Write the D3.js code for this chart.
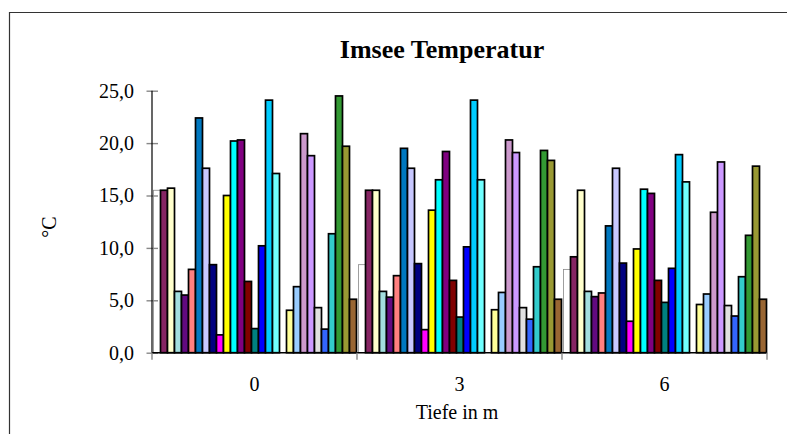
<!DOCTYPE html>
<html>
<head>
<meta charset="utf-8">
<script src="https://cdn.jsdelivr.net/npm/d3@7"></script>
<style>
  html, body { margin: 0; padding: 0; background: #fff; }
  svg { display: block; font-family: "Liberation Serif", "Times New Roman", serif; }
</style>
</head>
<body>
<svg id="chart" width="787" height="434"></svg>
<script>
// ---- data ----
const categories = ["0", "3", "6"];
const seriesNames = ["S1","S2","S3","S4","S5","S6","S7","S8","S9","S10","S11","S12","S13","S14","S15","S16","S17","S18","S19","S20","S21","S22","S23","S24","S25","S26","S27","S28","S29"];
const seriesColors = ["#FFFFFF","#862563","#FFFFCC","#A3DEDE","#620A80","#FF8080","#0078C0","#C8C8FF","#000080","#FF00FF","#FFFF00","#00FFFF","#800080","#800000","#008080","#0000FF","#00CCFF","#70FFFF","#FFFFFF","#FFFF99","#99CCFF","#CC99CC","#CC99FF","#E0E0E0","#3366FF","#33CCCC","#339933","#999933","#996633"];
const valuesDepth0 = [15.5,15.5,15.7,5.85,5.5,7.95,22.4,17.6,8.4,1.7,15.0,20.2,20.3,6.8,2.3,10.2,24.1,17.1,null,4.05,6.3,20.9,18.8,4.3,2.25,11.35,24.5,19.7,5.1];
const valuesDepth3 = [8.4,15.5,15.5,5.85,5.3,7.35,19.5,17.6,8.5,2.2,13.6,16.5,19.2,6.9,3.4,10.1,24.1,16.5,null,4.1,5.75,20.3,19.1,4.3,3.2,8.2,19.3,18.35,5.1];
const valuesDepth6 = [7.95,9.15,15.5,5.85,5.35,5.7,12.1,17.6,8.55,3.0,9.9,15.6,15.2,6.9,4.8,8.05,18.9,16.3,null,4.6,5.6,13.4,18.2,4.5,3.5,7.25,11.2,17.8,5.1];
const yTicks = [0, 5, 10, 15, 20, 25];
const titleText = "Imsee Temperatur";
const xTitle = "Tiefe in m";
const yTitle = "°C";

const rows = [valuesDepth0, valuesDepth3, valuesDepth6];

// ---- layout ----
const svg = d3.select("#chart");
const plot = { left: 152, right: 767, top: 90.7, bottom: 352.7 };

// frame
svg.append("line").attr("x1", 9).attr("x2", 787).attr("y1", 12.5).attr("y2", 12.5)
  .attr("stroke", "#333").attr("stroke-width", 1.2);
svg.append("line").attr("x1", 9.5).attr("x2", 9.5).attr("y1", 12).attr("y2", 434)
  .attr("stroke", "#333").attr("stroke-width", 1.2);

const x0 = d3.scaleBand().domain(categories).range([plot.left, plot.right]).paddingInner(0).paddingOuter(0);
const x1 = d3.scaleBand().domain(seriesNames).range([1.5, x0.bandwidth() - 0.5]).padding(0);
const y = d3.scaleLinear().domain([0, 25]).range([plot.bottom, plot.top]);

const fmt = v => d3.format(".1f")(v).replace(".", ",");

// bars
categories.forEach((c, ci) => {
  const g = svg.append("g").attr("transform", `translate(${x0(c)},0)`);
  seriesNames.forEach((s, si) => {
    const v = rows[ci][si];
    if (v == null) return;
    const isWhite = si === 0;
    g.append("rect")
      .attr("x", x1(s))
      .attr("y", y(v))
      .attr("width", x1.bandwidth())
      .attr("height", y(0) - y(v))
      .attr("fill", seriesColors[si])
      .attr("stroke", isWhite ? "#888" : "#000")
      .attr("stroke-width", isWhite ? 0.8 : 1.7);
  });
});

// y axis
const yAxis = d3.axisLeft(y).tickValues(yTicks).tickFormat(fmt).tickSize(0).tickPadding(18);
const ya = svg.append("g").attr("transform", `translate(${plot.left},0)`).call(yAxis);
ya.select(".domain").remove();
ya.selectAll("text").attr("font-size", 20).attr("fill", "#000")
  .attr("font-family", "Liberation Serif, Times New Roman, serif");
ya.selectAll(".tick").append("line").attr("x1", -5.5).attr("x2", 6).attr("stroke", "#888").attr("stroke-width", 1.4);
svg.append("line").attr("x1", plot.left).attr("x2", plot.left).attr("y1", plot.top).attr("y2", plot.bottom)
  .attr("stroke", "#000").attr("stroke-width", 1.2);

// x axis
const xa = svg.append("g").attr("transform", `translate(0,${plot.bottom})`)
  .call(d3.axisBottom(x0).tickSize(0).tickPadding(24));
xa.select(".domain").remove();
xa.selectAll("text").attr("font-size", 20).attr("fill", "#000")
  .attr("font-family", "Liberation Serif, Times New Roman, serif");
svg.append("line").attr("x1", plot.left).attr("x2", plot.right).attr("y1", plot.bottom).attr("y2", plot.bottom)
  .attr("stroke", "#000").attr("stroke-width", 1.4);
const bounds = categories.map(c => x0(c)).concat([x0(categories[categories.length - 1]) + x0.bandwidth()]);
svg.selectAll(".xtick").data(bounds).enter().append("line")
  .attr("x1", d => d).attr("x2", d => d).attr("y1", plot.bottom).attr("y2", plot.bottom + 7)
  .attr("stroke", "#888").attr("stroke-width", 1.4);

// titles
svg.append("text").attr("x", 442).attr("y", 58).attr("text-anchor", "middle")
  .attr("font-size", 26).attr("font-weight", "bold").text(titleText);
svg.append("text").attr("x", 457).attr("y", 419).attr("text-anchor", "middle")
  .attr("font-size", 20).text(xTitle);
svg.append("text").attr("transform", "translate(56,227) rotate(-90)").attr("text-anchor", "middle")
  .attr("font-size", 20).text(yTitle);
</script>
</body>
</html>
